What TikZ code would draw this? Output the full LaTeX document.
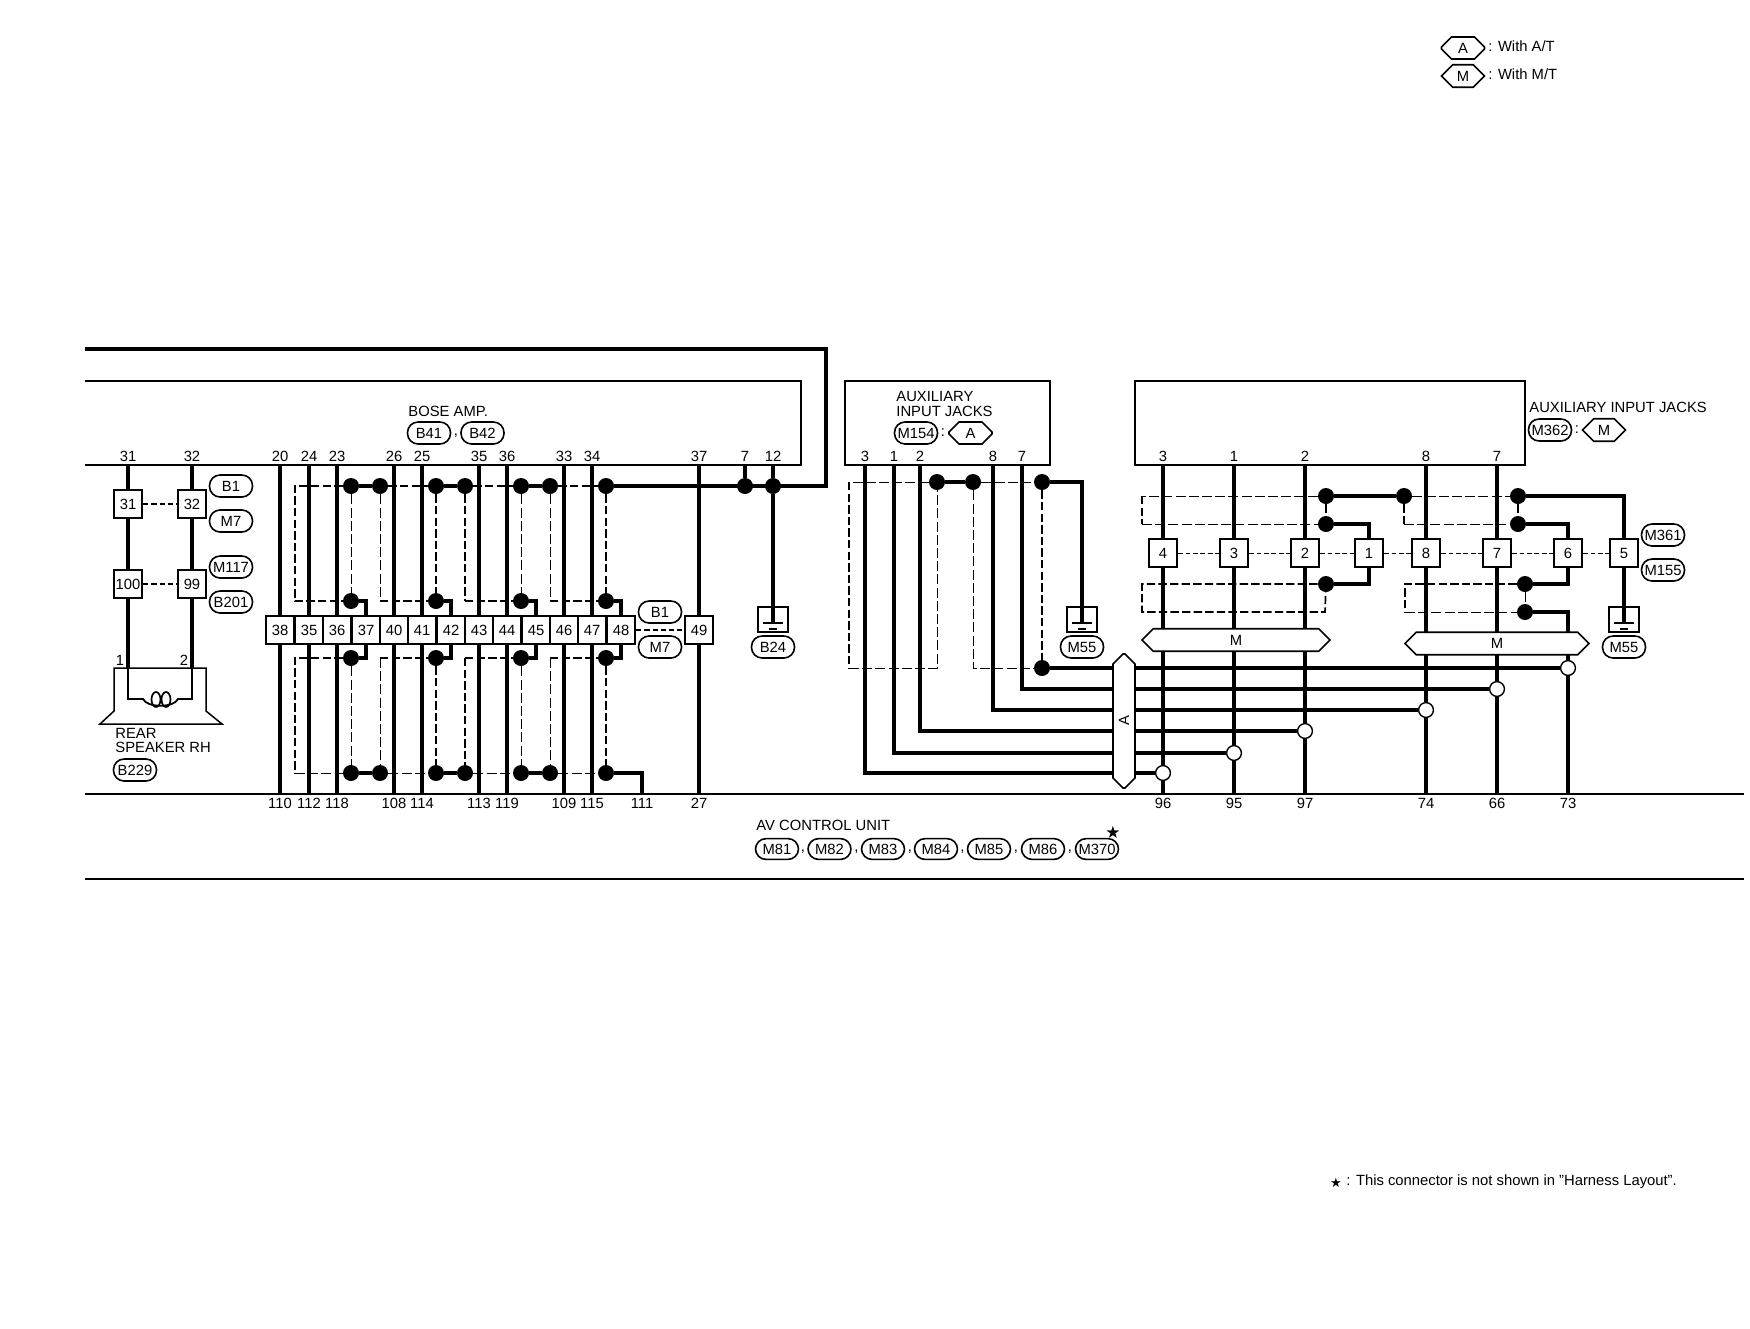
\documentclass[tikz,border=0pt]{standalone}
\usepackage{fontspec}
\setmainfont{Liberation Sans}
\newfontfamily\starfont{DejaVu Sans}
\usetikzlibrary{shapes.misc}
\newcommand{\fsz}{\fontsize{7.4}{8}\selectfont}
\tikzset{
  x=0.5pt,y=-0.5pt,
  wire/.style={line width=2pt,line cap=butt,line join=miter},
  dashbold/.style={line width=0.85pt,dash pattern=on 4.2pt off 1.6pt},
  dashthin/.style={line width=0.5pt,dash pattern=on 5pt off 1.6pt},
  dashshort/.style={line width=0.4pt,dash pattern=on 2.4pt off 1.3pt},
  dashshortbold/.style={line width=0.85pt,dash pattern=on 2.6pt off 1.5pt},
  lbl/.style={inner sep=0pt,font=\fsz},
  pinlbl/.style={inner sep=0pt,font=\fsz},
  leftlbl/.style={inner sep=0pt,font=\fsz,anchor=west},
  pill/.style={draw,line width=0.8pt,rounded corners=5.3pt,fill=white,minimum width=21.5pt,minimum height=11pt,inner sep=0pt,font=\fsz},
  hexa/.style={draw,line width=0.8pt,fill=white,chamfered rectangle,chamfered rectangle xsep=5.5pt,chamfered rectangle ysep=5.5pt,minimum height=11pt,inner sep=0pt,font=\fsz},
  cell/.style={draw,line width=0.9pt,fill=white,rectangle,minimum width=14.2pt,minimum height=14.2pt,inner sep=0pt,font=\fsz},
  blackdot/.style={circle,fill=black,inner sep=0pt,minimum size=8pt},
  opendot/.style={circle,draw,line width=0.7pt,fill=white,inner sep=0pt,minimum size=7.4pt},
}
\begin{document}
\begin{tikzpicture}
\useasboundingbox (0,0) rectangle (1750,1328);
% ---- legend
\node[hexa,minimum width=21.5pt] (legA) at (1463,48) {A};
\node[leftlbl] (legAt) at (1488,46) {: With A/T};
\node[hexa,minimum width=21.5pt] (legM) at (1463,76) {M};
\node[leftlbl] (legMt) at (1488,74) {: With M/T};
% ---- frames
\coordinate (bt0) at (85,381); \coordinate (bt1) at (801,381);
\coordinate (bb1) at (801,465); \coordinate (bb0) at (85,465);
\draw[line width=1pt] (bt0) -- (bt1) -- (bb1) -- (bb0);
\draw[line width=0.9pt] (845,381) rectangle (1050,465);
\draw[line width=0.9pt] (1135,381) rectangle (1525,465);
\coordinate (av0) at (85,794); \coordinate (av1) at (1744,794);
\coordinate (av2) at (85,879); \coordinate (av3) at (1744,879);
\draw[line width=0.7pt] (av0) -- (av1);
\draw[line width=0.7pt] (av2) -- (av3);
% ---- amp pins
\foreach \n/\x/\t in {p31/128/31,p32/192/32,p20/280/20,p24/309/24,p23/337/23,p26/394/26,p25/422/25,p35/479/35,p36/507/36,p33/564/33,p34/592/34,p37/699/37,p7/745/7,p12/773/12,
  j3/865/3,j1/894/1,j2/920/2,j8/993/8,j7/1022/7,
  m3/1163/3,m1/1234/1,m2/1305/2,m8/1426/8,m7/1497/7}{
  \node[pinlbl] (l\n) at (\x,456) {\t};
  \coordinate (\n) at (\x,465);
}
% ---- bottom pins
\foreach \n/\x in {110/280,112/309,118/337,108/394,114/422,113/479,119/507,109/564,115/592,111/642,27/699,96/1163,95/1234,97/1305,74/1426,66/1497,73/1568}{
  \node[pinlbl] (lb\n) at (\x,803) {\n};
  \coordinate (b\n) at (\x,794);
}
% ---- cells
\foreach \n/\x in {38/280,35/309,36/337,37/366,40/394,41/422,42/451,43/479,44/507,45/536,46/564,47/592,48/621,49/699}{
  \node[cell] (c\n) at (\x,630) {\n};
}
\node[cell] (c31) at (128,504) {31};
\node[cell] (c32) at (192,504) {32};
\node[cell] (c100) at (128,584) {100};
\node[cell] (c99) at (192,584) {99};
\foreach \n/\x in {4/1163,3/1234,2/1305,1/1369,8/1426,7/1497,6/1568,5/1624}{
  \node[cell] (q\n) at (\x,553) {\n};
}
% ---- dots
\foreach \x in {351,380,436,465,521,550,606}{
  \node[blackdot] (u\x) at (\x,486) {};
  \node[blackdot] (x\x) at (\x,773) {};
}
\foreach \x in {351,436,521,606}{
  \node[blackdot] (v\x) at (\x,601) {};
  \node[blackdot] (w\x) at (\x,658) {};
}
\node[blackdot] (dj7) at (745,486) {};
\node[blackdot] (dj12) at (773,486) {};
\node[blackdot] (e937) at (937,482) {};
\node[blackdot] (e973) at (973,482) {};
\node[blackdot] (e1042) at (1042,482) {};
\node[blackdot] (f1042) at (1042,668) {};
\node[blackdot] (g1326) at (1326,496) {};
\node[blackdot] (g1404) at (1404,496) {};
\node[blackdot] (g1518) at (1518,496) {};
\node[blackdot] (h1326) at (1326,524) {};
\node[blackdot] (h1518) at (1518,524) {};
\node[blackdot] (i1326) at (1326,584) {};
\node[blackdot] (i1525) at (1525,584) {};
\node[blackdot] (j1525) at (1525,612) {};
\node[opendot] (o96) at (1163,773) {};
\node[opendot] (o95) at (1234,753) {};
\node[opendot] (o97) at (1305,731) {};
\node[opendot] (o74) at (1426,710) {};
\node[opendot] (o66) at (1497,689) {};
\node[opendot] (o73) at (1568,668) {};
% ---- grounds
\foreach \n/\x in {B24/773,M55a/1082,M55b/1624}{
  \draw[line width=0.7pt] (\x-15,607) rectangle (\x+15,632);
  \coordinate (g\n) at (\x,623);
  \draw[line width=0.6pt] (\x-10,623) -- (\x+10,623);
  \draw[line width=1pt] (\x-4,629) -- (\x+4,629);
}
% ---- dashed, left group
\coordinate (k1) at (295,486); \coordinate (k2) at (295,601);
\coordinate (k380) at (380,601); \coordinate (k465) at (465,601); \coordinate (k550) at (550,601);
\coordinate (n1) at (295,658); \coordinate (n2) at (295,773);
\coordinate (n380) at (380,658); \coordinate (n465) at (465,658); \coordinate (n550) at (550,658);
\draw[dashbold] (u351) -- (k1) -- (k2) -- (v351);
\draw[dashbold] (u380) -- (u436);
\draw[dashbold] (u465) -- (u521);
\draw[dashbold] (u550) -- (u606);
\draw[dashthin] (u351) -- (v351);
\draw[dashthin] (u380) -- (k380);
\draw[dashbold] (k380) -- (v436);
\draw[dashbold] (u436) -- (v436);
\draw[dashbold] (u465) -- (k465);
\draw[dashbold] (k465) -- (v521);
\draw[dashthin] (u521) -- (v521);
\draw[dashthin] (u550) -- (k550);
\draw[dashbold] (k550) -- (v606);
\draw[dashbold] (u606) -- (v606);
\draw[dashbold] (w351) -- (n1) -- (n2);
\draw[dashthin] (n2) -- (x351);
\draw[dashthin] (w351) -- (x351);
\draw[dashthin] (n380) -- (x380);
\draw[dashbold] (n380) -- (w436);
\draw[dashbold] (w436) -- (x436);
\draw[dashbold] (n465) -- (x465);
\draw[dashbold] (n465) -- (w521);
\draw[dashthin] (w521) -- (x521);
\draw[dashthin] (n550) -- (x550);
\draw[dashbold] (n550) -- (w606);
\draw[dashbold] (w606) -- (x606);
\draw[dashthin] (x380) -- (x436);
\draw[dashthin] (x465) -- (x521);
\draw[dashthin] (x550) -- (x606);
\draw[dashshortbold] (c31) -- (c32);
\draw[dashshortbold] (c100) -- (c99);
\draw[dashshortbold] (c48) -- (c49);
% ---- dashed, aux 1
\coordinate (r1) at (849,482); \coordinate (r2) at (849,668);
\coordinate (r3) at (937,668); \coordinate (r4) at (973,668);
\draw[dashthin] (e937) -- (r1);
\draw[dashbold] (r1) -- (r2);
\draw[dashthin] (r2) -- (r3) -- (e937);
\draw[dashthin] (e973) -- (r4) -- (f1042);
\draw[dashthin] (e973) -- (e1042);
\draw[dashbold] (e1042) -- (f1042);
% ---- dashed, aux 2
\coordinate (s1) at (1142,496); \coordinate (s2) at (1142,524);
\coordinate (s3) at (1142,584); \coordinate (s4) at (1142,612);
\coordinate (s5) at (1325,612); \coordinate (s6) at (1404,524);
\coordinate (s7) at (1405,584); \coordinate (s8) at (1405,612);
\draw[dashthin] (g1326) -- (s1);
\draw[dashbold] (s1) -- (s2);
\draw[dashthin] (s2) -- (h1326);
\draw[dashbold] (g1326) -- (h1326);
\draw[dashthin] (g1404) -- (g1518);
\draw[dashbold] (g1404) -- (s6);
\draw[dashthin] (s6) -- (h1518);
\draw[dashbold] (g1518) -- (h1518);
\draw[dashbold] (i1326) -- (s3) -- (s4) -- (s5) -- (i1326);
\draw[dashbold] (i1525) -- (s7) -- (s8);
\draw[dashthin] (s8) -- (j1525);
\draw[dashthin] (i1525) -- (j1525);
\foreach \a/\b in {4/3,3/2,2/1,1/8,8/7,7/6,6/5}{
  \draw[dashshort] (q\a) -- (q\b);
}
% ---- wires, left
\draw[wire] (p31) -- (c31);
\draw[wire] (c31) -- (c100);
\draw[wire] (p32) -- (c32);
\draw[wire] (c32) -- (c99);
\coordinate (spk1) at (128,668); \coordinate (spk2) at (192,668);
\draw[wire] (c100) -- (spk1);
\draw[wire] (c99) -- (spk2);
\foreach \p/\c/\b in {p20/c38/b110,p24/c35/b112,p23/c36/b118,p26/c40/b108,p25/c41/b114,p35/c43/b113,p36/c44/b119,p33/c46/b109,p34/c47/b115,p37/c49/b27}{
  \draw[wire] (\p) -- (\c);
  \draw[wire] (\c) -- (\b);
}
\foreach \a/\b in {351/380,436/465,521/550}{
  \draw[wire] (u\a) -- (u\b);
  \draw[wire] (x\a) -- (x\b);
}
\foreach \a/\c in {351/37,436/42,521/45,606/48}{
  \draw[wire] (v\a) -| (c\c);
  \draw[wire] (w\a) -| (c\c);
}
\draw[wire] (x606) -| (b111);
\coordinate (wf) at (85,349); \coordinate (wc) at (826,486);
\draw[wire] (wf) -| (wc) -- (u606);
\draw[wire] (p7) -- (dj7);
\draw[wire] (p12) -- (dj12);
\draw[wire] (dj12) -- (gB24);
% ---- wires, aux 1
\draw[wire] (e937) -- (e973);
\draw[wire] (e1042) -| (gM55a);
\draw[wire] (f1042) -- (o73);
\draw[wire] (j7) |- (o66);
\draw[wire] (j8) |- (o74);
\draw[wire] (j2) |- (o97);
\draw[wire] (j1) |- (o95);
\draw[wire] (j3) |- (o96);
% ---- wires, aux 2
\foreach \m/\q/\o/\b in {m3/q4/o96/b96,m1/q3/o95/b95,m2/q2/o97/b97,m8/q8/o74/b74,m7/q7/o66/b66}{
  \draw[wire] (\m) -- (\q);
  \draw[wire] (\q) -- (\o);
  \draw[wire] (\o) -- (\b);
}
\draw[wire] (o73) -- (b73);
\draw[wire] (g1326) -- (g1404);
\draw[wire] (g1518) -| (q5);
\draw[wire] (q5) -- (gM55b);
\draw[wire] (h1326) -| (q1);
\draw[wire] (i1326) -| (q1);
\draw[wire] (h1518) -| (q6);
\draw[wire] (i1525) -| (q6);
\draw[wire] (j1525) -| (o73);
% ---- speaker
\draw[line width=0.75pt] (114,668) -- (206,668) -- (206,711) -- (222,724) -- (100,724) -- (114,711) -- cycle;
\draw[line width=0.9pt] (spk1) -- (128,699) -- (143,699) .. controls (147,708) and (174,708) .. (178,699) -- (192,699) -- (spk2);
\draw[line width=0.85pt] (156,699.5) ellipse (4.5 and 7.5);
\draw[line width=0.85pt] (166,699.5) ellipse (4.5 and 7.5);
\node[lbl] (s1l) at (120,660) {1};
\node[lbl] (s2l) at (184,660) {2};
\node[leftlbl] (rearl) at (115,733) {REAR};
\node[leftlbl] (spkl) at (115,747) {SPEAKER RH};
\node[pill] (pB229) at (135,770) {B229};
% ---- hexes over wires
\node[hexa,minimum width=94pt] (hexM1) at (1236,640) {M};
\node[hexa,minimum width=92pt] (hexM2) at (1497,643.5) {M};
\node[hexa,minimum width=11pt,minimum height=67pt] (hexA) at (1124,721) {\rotatebox{90}{A}};
% ---- pills and labels
\node[leftlbl] (boseamp) at (408,411) {BOSE AMP.};
\node[pill] (pB41) at (429,433) {B41};
\node[lbl] (c1a) at (456,436) {,};
\node[pill] (pB42) at (482.5,433) {B42};
\node[pill] (pB1a) at (231,486) {B1};
\node[pill] (pM7a) at (231,521) {M7};
\node[pill] (pM117) at (231,567) {M117};
\node[pill] (pB201) at (231,602) {B201};
\node[pill] (pB1b) at (660,612) {B1};
\node[pill] (pM7b) at (660,647) {M7};
\node[pill] (pB24) at (773,647) {B24};
\node[pill] (pM55a) at (1082,647) {M55};
\node[pill] (pM55b) at (1624,647) {M55};
\node[leftlbl] (aux1a) at (896,396) {AUXILIARY};
\node[leftlbl] (aux1b) at (896,411) {INPUT JACKS};
\node[pill] (pM154) at (916,433) {M154};
\node[lbl] (col1) at (943,433) {:};
\node[hexa,minimum width=21.5pt] (hA) at (970.5,433) {A};
\node[leftlbl] (aux2) at (1529,407) {AUXILIARY INPUT JACKS};
\node[pill] (pM362) at (1550,430) {M362};
\node[lbl] (col2) at (1577,430) {:};
\node[hexa,minimum width=21.5pt] (hM) at (1604,430) {M};
\node[pill] (pM361) at (1663,535) {M361};
\node[pill] (pM155) at (1663,570) {M155};
% ---- AV control unit
\node[leftlbl] (avl) at (756,825) {AV CONTROL UNIT};
\foreach \n/\x in {M81/777,M82/829.5,M83/883,M84/936,M85/989,M86/1043,M370/1097}{
  \node[pill,minimum height=10.4pt] (p\n) at (\x,849) {\n};
}
\foreach \n/\x in {a/803,b/856.5,c/910,d/962.5,e/1016,f/1070}{
  \node[lbl] (cm\n) at (\x,852) {,};
}
\node[inner sep=0pt,font=\starfont\fontsize{8.5}{9}\selectfont] (astar) at (1113,832) {★};
% ---- footnote
\node[inner sep=0pt,font=\starfont\fontsize{6.5}{7}\selectfont] (fstar) at (1336,1183) {★};
\node[leftlbl] (foot) at (1346,1182) {: This connector is not shown in "Harness Layout".};
\end{tikzpicture}
\end{document}
